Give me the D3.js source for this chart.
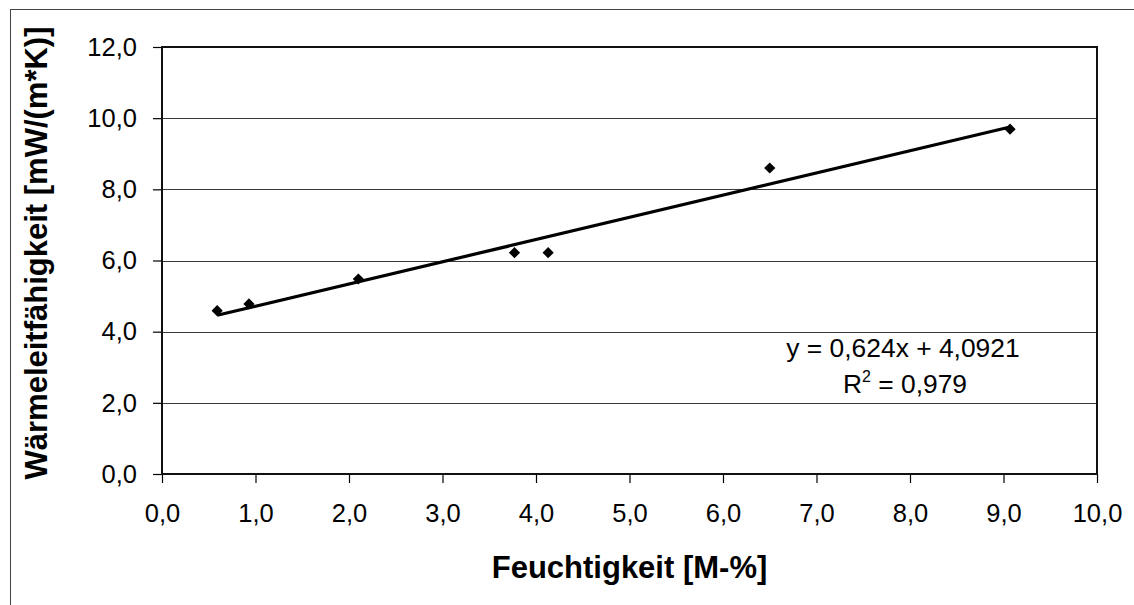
<!DOCTYPE html>
<html>
<head>
<meta charset="utf-8">
<script src="https://cdn.jsdelivr.net/npm/d3@7"></script>
<style>
  html, body { margin: 0; padding: 0; background: #fff; }
  svg { display: block; }
  text { font-family: "Liberation Sans", Arial, sans-serif; fill: #000; }
</style>
</head>
<body>
<svg id="chart" width="1134" height="605"></svg>
<script>
// Moisture content [M-%] and thermal conductivity [mW/(m*K)]
const moisture = [0.59, 0.93, 2.10, 3.77, 4.13, 6.50, 9.07];
const conductivity = [4.59, 4.78, 5.48, 6.22, 6.22, 8.60, 9.69];

// Linear trend: y = 0,624x + 4,0921, R² = 0,979
const slope = 0.624;
const intercept = 4.0921;
const trendLabel = "y = 0,624x + 4,0921";
const r2Value = "0,979";

const xTicks = [0, 1, 2, 3, 4, 5, 6, 7, 8, 9, 10];
const yTicks = [0, 2, 4, 6, 8, 10, 12];

const xTitle = "Feuchtigkeit [M-%]";
const yTitle = "Wärmeleitfähigkeit [mW/(m*K)]";

const svg = d3.select("#chart");
const plot = { left: 162, right: 1097, top: 47, bottom: 474 };

const x = d3.scaleLinear().domain([0, 10]).range([plot.left, plot.right]);
const y = d3.scaleLinear().domain([0, 12]).range([plot.bottom, plot.top]);
const fmt = v => d3.format(".1f")(v).replace(".", ",");

// outer chart frame
svg.append("rect")
  .attr("x", 10.5).attr("y", 9.5)
  .attr("width", 1140).attr("height", 620)
  .attr("fill", "none").attr("stroke", "#444").attr("stroke-width", 1);

// horizontal gridlines
svg.append("g")
  .selectAll("line")
  .data(yTicks.filter(d => d > 0 && d < 12))
  .join("line")
  .attr("x1", plot.left).attr("x2", plot.right)
  .attr("y1", d => Math.round(y(d)) + 0.5).attr("y2", d => Math.round(y(d)) + 0.5)
  .attr("stroke", "#3a3a3a").attr("stroke-width", 1);

// axes
const yAxis = svg.append("g")
  .attr("transform", `translate(${plot.left},0)`)
  .call(d3.axisLeft(y).tickValues(yTicks).tickFormat(fmt).tickSize(9).tickPadding(16));
const xAxis = svg.append("g")
  .attr("transform", `translate(0,${plot.bottom})`)
  .call(d3.axisBottom(x).tickValues(xTicks).tickFormat(fmt).tickSize(9).tickPadding(21));

[yAxis, xAxis].forEach(g => {
  g.select(".domain").remove();
  g.selectAll(".tick line").attr("stroke", "#000").attr("stroke-width", 1.2);
  g.selectAll(".tick text")
    .style("font-family", "'Liberation Sans', Arial, sans-serif")
    .style("font-size", "25.5px").attr("fill", "#000");
});

// plot area border
svg.append("rect")
  .attr("x", plot.left).attr("y", plot.top)
  .attr("width", plot.right - plot.left).attr("height", plot.bottom - plot.top)
  .attr("fill", "none").attr("stroke", "#111").attr("stroke-width", 2);

// trendline over the data range
const xMin = d3.min(moisture), xMax = d3.max(moisture);
svg.append("line")
  .attr("x1", x(xMin)).attr("y1", y(slope * xMin + intercept))
  .attr("x2", x(xMax)).attr("y2", y(slope * xMax + intercept))
  .attr("stroke", "#000").attr("stroke-width", 3.2);

// diamond markers
const diamond = d3.symbol().type(d3.symbolDiamond2).size(80);
svg.append("g")
  .selectAll("path")
  .data(moisture.map((m, i) => [m, conductivity[i]]))
  .join("path")
  .attr("d", diamond)
  .attr("transform", d => `translate(${x(d[0])},${y(d[1])})`)
  .attr("fill", "#000");

// trend equation
const eq = svg.append("g").style("font-size", "26.4px");
eq.append("text")
  .attr("x", 903).attr("y", 357)
  .attr("text-anchor", "middle")
  .text(trendLabel);
const r2 = eq.append("text")
  .attr("x", 905).attr("y", 393)
  .attr("text-anchor", "middle");
r2.append("tspan").text("R");
r2.append("tspan").attr("dy", -11).style("font-size", "16px").text("2");
r2.append("tspan").attr("dy", 11).text(" = " + r2Value);

// axis titles
svg.append("text")
  .attr("x", (plot.left + plot.right) / 2).attr("y", 578)
  .attr("text-anchor", "middle")
  .style("font-size", "31px").style("font-weight", "bold")
  .text(xTitle);
svg.append("text")
  .attr("transform", `translate(47,253) rotate(-90)`)
  .attr("text-anchor", "middle")
  .style("font-size", "31px").style("font-weight", "bold")
  .text(yTitle);
</script>
</body>
</html>
